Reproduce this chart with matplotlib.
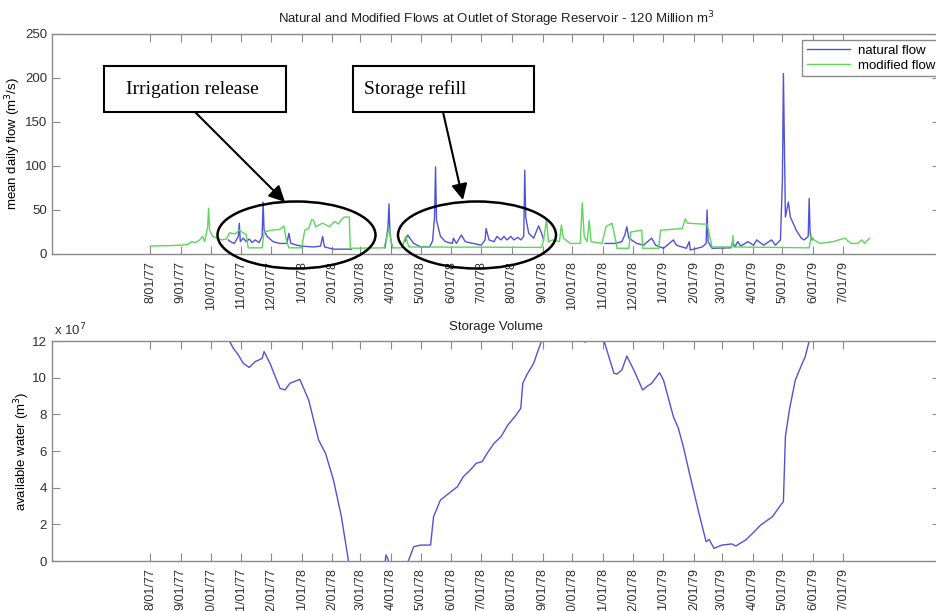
import numpy as np
import pandas as pd
import matplotlib
matplotlib.use('Agg')
import matplotlib.pyplot as plt
import matplotlib.dates as mdates
from matplotlib.patches import Ellipse, Rectangle, FancyArrowPatch

# modified flow (m3/s), green
modified_dates = ['1977-08-01', '1977-08-20', '1977-09-01', '1977-09-08', '1977-09-12', '1977-09-16',
                  '1977-09-20', '1977-09-23', '1977-09-25', '1977-09-28', '1977-09-29', '1977-09-30',
                  '1977-10-03', '1977-10-12', '1977-10-17', '1977-10-20', '1977-10-26', '1977-10-30',
                  '1977-11-03', '1977-11-06', '1977-11-08', '1977-11-22', '1977-11-24', '1977-12-01',
                  '1977-12-10', '1977-12-14', '1977-12-16', '1977-12-19', '1978-01-01', '1978-01-04',
                  '1978-01-08', '1978-01-11', '1978-01-13', '1978-01-15', '1978-01-22', '1978-01-29',
                  '1978-02-03', '1978-02-07', '1978-02-10', '1978-02-13', '1978-02-18', '1978-02-19',
                  '1978-03-25', '1978-03-28', '1978-03-30', '1978-04-01', '1978-04-03', '1978-04-12',
                  '1978-04-14', '1978-04-16', '1978-04-19', '1978-08-31', '1978-09-02', '1978-09-05',
                  '1978-09-07', '1978-09-11', '1978-09-18', '1978-09-20', '1978-09-22', '1978-09-29',
                  '1978-10-09', '1978-10-11', '1978-10-13', '1978-10-16', '1978-10-18', '1978-10-20',
                  '1978-10-31', '1978-11-04', '1978-11-10', '1978-11-14', '1978-11-15', '1978-11-27',
                  '1978-11-29', '1978-12-10', '1978-12-11', '1978-12-27', '1978-12-29', '1979-01-20',
                  '1979-01-23', '1979-01-25', '1979-02-10', '1979-02-14', '1979-02-19', '1979-03-11',
                  '1979-03-12', '1979-03-13', '1979-05-28', '1979-05-30', '1979-06-02', '1979-06-08',
                  '1979-06-21', '1979-07-03', '1979-07-09', '1979-07-16', '1979-07-20', '1979-07-23',
                  '1979-07-28']
modified_flow = [9, 9.5, 10, 11, 14, 13,
                 16, 20, 14, 30, 52, 27,
                 20, 16, 17, 24, 23, 27,
                 24, 22, 7, 7, 25, 27,
                 28, 32, 18, 7, 7, 27,
                 29, 39, 38, 31, 35, 31,
                 37, 34, 39, 42, 42, 6.5,
                 7, 20, 29, 15, 7, 7,
                 14, 20, 8, 7.5, 16, 39,
                 14, 16, 14, 33, 18, 12,
                 12, 58, 20, 14, 38, 14,
                 12, 31, 35, 14, 6.5, 6.5,
                 25, 27, 6.5, 6.5, 27, 29,
                 40, 35, 34, 34, 8, 8,
                 21, 8, 7, 20, 16, 12,
                 14, 18, 12, 12, 16, 12,
                 18]

# natural flow (m3/s), blue; None splits the line where it sits under the green one
natural_dates = ['1977-10-19', '1977-10-21', '1977-10-25', '1977-10-29', '1977-10-30', '1977-10-31',
                 '1977-11-03', '1977-11-06', '1977-11-09', '1977-11-12', '1977-11-15', '1977-11-19',
                 '1977-11-22', '1977-11-23', '1977-11-24', '1977-11-27', '1977-12-03', '1977-12-10',
                 '1977-12-17', '1977-12-19', '1977-12-21', '1977-12-31', '1978-01-13', '1978-01-20',
                 '1978-01-22', '1978-01-24', '1978-02-02', '1978-02-20', '1978-02-21',
                 '1978-03-26', '1978-03-29', '1978-03-30', '1978-03-31', '1978-04-02', '1978-04-03',
                 '1978-04-15', '1978-04-18', '1978-04-20', '1978-04-24', '1978-05-01', '1978-05-10',
                 '1978-05-13', '1978-05-15', '1978-05-16', '1978-05-17', '1978-05-21', '1978-05-26',
                 '1978-06-02', '1978-06-03', '1978-06-06', '1978-06-11', '1978-06-15', '1978-06-23',
                 '1978-07-01', '1978-07-05', '1978-07-06', '1978-07-09', '1978-07-14', '1978-07-17',
                 '1978-07-21', '1978-07-24', '1978-07-27', '1978-07-31', '1978-08-03', '1978-08-07',
                 '1978-08-10', '1978-08-13', '1978-08-14', '1978-08-15', '1978-08-18', '1978-08-23',
                 '1978-08-28', '1978-08-31', '1978-09-02', '1978-09-03',
                 '1978-11-03', '1978-11-13', '1978-11-20', '1978-11-23', '1978-11-25', '1978-11-27',
                 '1978-12-05', '1978-12-12', '1978-12-20', '1978-12-24', '1979-01-01', '1979-01-11',
                 '1979-01-14', '1979-01-24', '1979-01-27', '1979-01-28', '1979-02-09', '1979-02-13',
                 '1979-02-14', '1979-02-15', '1979-02-19', '1979-03-10', '1979-03-12', '1979-03-14',
                 '1979-03-17', '1979-03-20', '1979-03-27', '1979-04-02', '1979-04-05', '1979-04-12',
                 '1979-04-20', '1979-04-24', '1979-04-29', '1979-05-01', '1979-05-02', '1979-05-04',
                 '1979-05-07', '1979-05-09', '1979-05-15', '1979-05-20', '1979-05-23', '1979-05-27',
                 '1979-05-28', '1979-05-29', '1979-05-31']
natural_flow = [16, 14, 12, 20, 35, 14,
                18, 14, 17, 13, 16, 13,
                20, 59, 27, 20, 14, 12,
                12, 23.5, 12, 9, 8, 9,
                20, 8, 5.5, 5.5, None,
                7, 30, 57, 25, 7, None,
                14, 21.6, 18, 12, 8, 8,
                15, 42, 99, 38, 20, 14,
                12, 18, 12, 21.6, 14, 12,
                10, 16, 29, 16, 14, 20,
                16, 20, 16, 20, 16, 19,
                16, 20, 95, 42, 23.5, 18,
                32, 23.5, 16, None,
                12, 12, 14, 21.6, 31, 18,
                12, 10, 18, 10, 6.5, 16,
                10, 6.5, 14, 4.5, 8, 12,
                50, 14, 6.5, 7, 14, 8,
                14, 9, 14, 10, 16, 10,
                16, 10, 16, 84, 205, 42,
                59, 42, 27, 18, 16, 20,
                63, 23.5, 16]

# available water in storage (x 10^7 m3); below zero while the reservoir is in deficit
storage_dates = ['1977-08-01', '1977-10-20', '1977-10-24', '1977-10-29', '1977-11-03', '1977-11-09',
                 '1977-11-15', '1977-11-22', '1977-11-24', '1977-11-30', '1977-12-10', '1977-12-15',
                 '1977-12-20', '1977-12-30', '1978-01-08', '1978-01-18', '1978-01-25', '1978-02-02',
                 '1978-02-10', '1978-02-17', '1978-02-19', '1978-03-25', '1978-03-27', '1978-03-29',
                 '1978-03-31', '1978-04-15', '1978-04-24', '1978-05-01', '1978-05-11', '1978-05-14',
                 '1978-05-21', '1978-06-07', '1978-06-13', '1978-06-20', '1978-06-26', '1978-07-02',
                 '1978-07-07', '1978-07-14', '1978-07-21', '1978-07-28', '1978-08-04', '1978-08-10',
                 '1978-08-12', '1978-08-16', '1978-08-23', '1978-08-27', '1978-08-31', '1978-10-12',
                 '1978-10-14', '1978-10-16', '1978-11-02', '1978-11-12', '1978-11-15', '1978-11-20',
                 '1978-11-25', '1978-12-02', '1978-12-11', '1978-12-15', '1978-12-20', '1978-12-28',
                 '1979-01-01', '1979-01-11', '1979-01-16', '1979-01-21', '1979-01-28', '1979-02-05',
                 '1979-02-13', '1979-02-16', '1979-02-21', '1979-03-01', '1979-03-11', '1979-03-15',
                 '1979-03-25', '1979-04-01', '1979-04-09', '1979-04-21', '1979-04-28', '1979-05-02',
                 '1979-05-04', '1979-05-08', '1979-05-14', '1979-05-21', '1979-05-24', '1979-05-28',
                 '1979-07-25']
storage = [12.0, 12.0, 11.6, 11.24, 10.78, 10.56,
           10.87, 11.05, 11.42, 10.78, 9.42, 9.33,
           9.69, 9.91, 8.78, 6.6, 5.87, 4.42,
           2.42, 0.05, -0.5, -0.5, 0.33, 0.1,
           -0.5, -0.5, 0.78, 0.87, 0.87, 2.42,
           3.33, 4.05, 4.6, 4.96, 5.33, 5.42,
           5.87, 6.42, 6.78, 7.42, 7.87, 8.33,
           9.69, 10.15, 10.78, 11.42, 12.0, 12.0,
           11.94, 12.0, 12.0, 10.24, 10.2, 10.42,
           11.18, 10.42, 9.33, 9.51, 9.69, 10.27,
           9.87, 7.87, 7.24, 6.24, 4.6, 2.78,
           1.05, 1.18, 0.69, 0.87, 0.93, 0.82,
           1.15, 1.51, 1.96, 2.42, 2.96, 3.24,
           6.78, 8.24, 9.87, 10.78, 11.15, 12.0,
           12.0]

month_ticks = pd.date_range('1977-08-01', '1979-07-01', freq='MS')

BLUE = '#5252d6'
GREEN = '#5cd65c'
GRAY = '#8a8a8a'
W, H = 936, 611
FS = 9.5

plt.rcParams['font.family'] = ['Liberation Sans', 'DejaVu Sans']
plt.rcParams['font.size'] = FS


def px(x, y):
    # pixel position (from top-left) -> figure fraction
    return x / W, 1 - y / H


def date_label(d, pos=None):
    d = mdates.num2date(d)
    return '%d/%02d/%02d' % (d.month, d.day, d.year % 100)


def style_axis(ax):
    for s in ax.spines.values():
        s.set_color(GRAY)
        s.set_linewidth(1.0)
    ax.set_xlim(pd.Timestamp('1977-04-24'), pd.Timestamp('1979-10-07'))
    ax.set_xticks(month_ticks)
    ax.xaxis.set_major_formatter(plt.FuncFormatter(date_label))
    ax.tick_params(direction='in', top=True, right=True, length=6, width=0.8,
                   color=GRAY, labelcolor='#303030', labelsize=FS)
    ax.tick_params(axis='x', labelrotation=90, pad=5, labelsize=9)


fig = plt.figure(figsize=(W / 100, H / 100), dpi=100)
ax1 = fig.add_axes([52 / W, 1 - 254 / H, 888 / W, 220 / H])
ax2 = fig.add_axes([52 / W, 1 - 561 / H, 888 / W, 220 / H])

nat = np.array([np.nan if v is None else v for v in natural_flow], dtype=float)
ax1.plot(pd.to_datetime(natural_dates), nat, color=BLUE, lw=1.0, label='natural flow')
ax1.plot(pd.to_datetime(modified_dates), modified_flow, color=GREEN, lw=1.0, label='modified flow')
ax1.set_ylim(0, 250)
ax1.set_yticks(range(0, 251, 50))
ax1.set_ylabel('mean daily flow (m$^3$/s)', labelpad=1)
ax1.set_title('Natural and Modified Flows at Outlet of Storage Reservoir - 120 Million m$^3$',
              fontsize=FS, pad=8, color='#202020')
style_axis(ax1)
ax1.legend(loc='upper left', bbox_to_anchor=px(802, 40), bbox_transform=fig.transFigure,
           fancybox=False, edgecolor=GRAY, framealpha=1, fontsize=FS, handlelength=3.3,
           handletextpad=0.6, borderpad=0.35, labelspacing=0.2, borderaxespad=0)

ax2.plot(pd.to_datetime(storage_dates), storage, color=BLUE, lw=1.0, zorder=1)
ax2.set_ylim(0, 12)
ax2.set_yticks(range(0, 13, 2))
ax2.set_ylabel('available water (m$^3$)', labelpad=0)
ax2.set_title('Storage Volume', fontsize=FS, pad=8, color='#202020')
ax2.text(0.002, 1.01, 'x 10$^7$', transform=ax2.transAxes, ha='left', va='bottom',
         fontsize=FS, color='#303030')
style_axis(ax2)

# callouts
serif = ['Liberation Serif', 'DejaVu Serif']
for (x0, y0, x1, y1), label, tx in [((104, 66, 286, 112), 'Irrigation release', 192),
                                    ((353, 66, 534, 112), 'Storage refill', 415)]:
    fig.add_artist(Rectangle(px(x0, y1), (x1 - x0) / W, (y1 - y0) / H, transform=fig.transFigure,
                             fill=True, facecolor='white', edgecolor='black', lw=1.5))
    fig.text(*px(tx, (y0 + y1) / 2), label, family=serif, fontsize=14, ha='center', va='center')

for cx in (296.5, 477):
    fig.add_artist(Ellipse(px(cx, 235), 158 / W, 67 / H, transform=fig.transFigure,
                           fill=False, edgecolor='black', lw=1.8))

for (xa, ya), (xb, yb) in [((195, 112), (285, 202)), ((443, 112), (463, 200))]:
    fig.add_artist(FancyArrowPatch(px(xa, ya), px(xb, yb), transform=fig.transFigure,
                                   arrowstyle='-|>', mutation_scale=24, lw=1.5, color='black',
                                   shrinkA=0, shrinkB=0))

fig.savefig('out.png', dpi=100)
